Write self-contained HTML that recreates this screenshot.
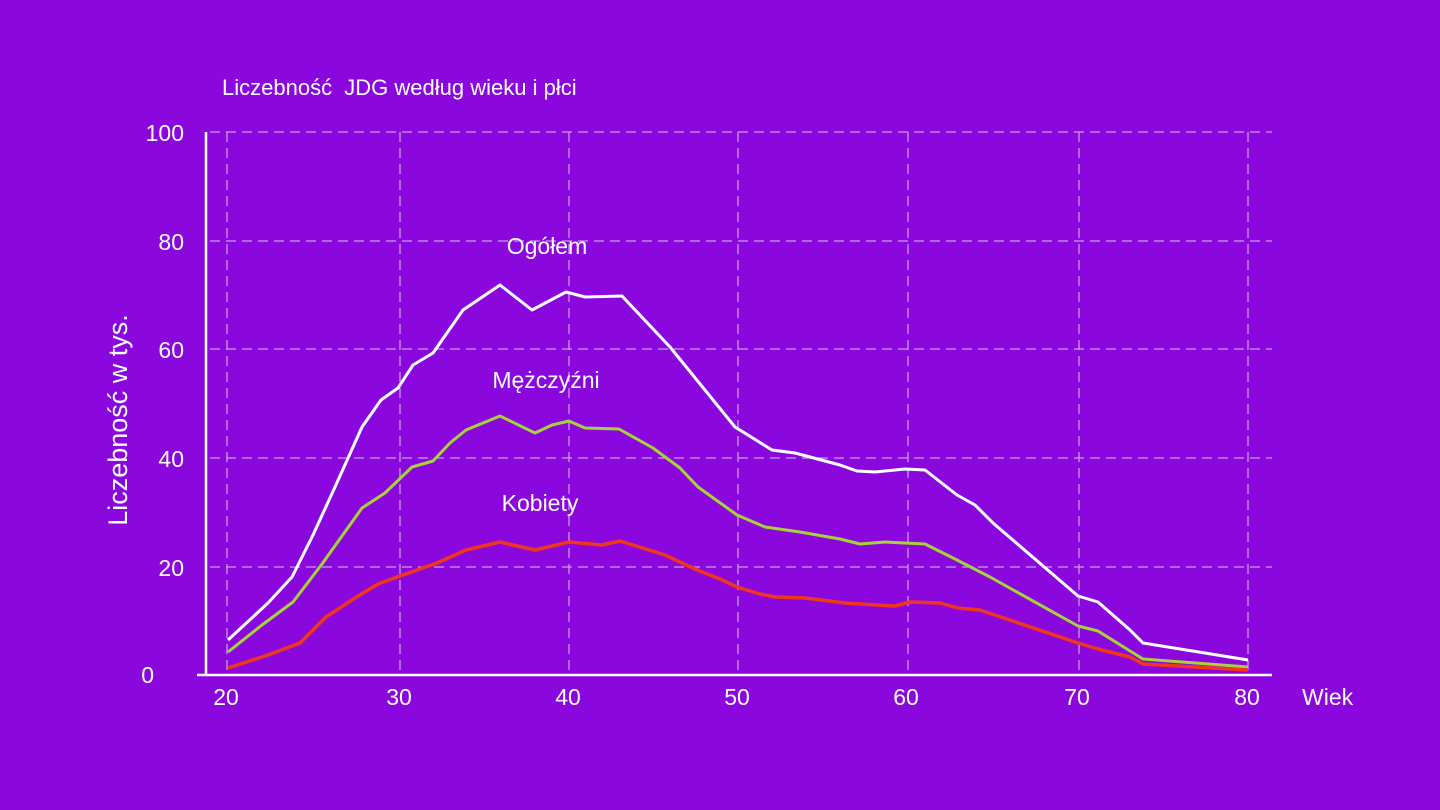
<!DOCTYPE html>
<html><head><meta charset="utf-8"><style>
html,body{margin:0;padding:0;background:#8a08de;}
svg{display:block}
text{font-family:"Liberation Sans",sans-serif;fill:#fff}
</style></head><body>
<svg width="1440" height="810" viewBox="0 0 1440 810">
<rect width="1440" height="810" fill="#8a08de"/>
<g stroke="#c79cf0" stroke-width="1.3" stroke-dasharray="10,6" fill="none">
<line x1="210" y1="132" x2="1272" y2="132"/>
<line x1="210" y1="241" x2="1272" y2="241"/>
<line x1="210" y1="349" x2="1272" y2="349"/>
<line x1="210" y1="458" x2="1272" y2="458"/>
<line x1="210" y1="567" x2="1272" y2="567"/>
<line x1="227" y1="132" x2="227" y2="675"/>
<line x1="400" y1="132" x2="400" y2="675"/>
<line x1="569" y1="132" x2="569" y2="675"/>
<line x1="738" y1="132" x2="738" y2="675"/>
<line x1="908" y1="132" x2="908" y2="675"/>
<line x1="1079" y1="132" x2="1079" y2="675"/>
<line x1="1248" y1="132" x2="1248" y2="675"/>
</g>
<line x1="206" y1="132" x2="206" y2="676" stroke="#fff" stroke-width="2.5"/>
<line x1="197" y1="675" x2="1272" y2="675" stroke="#fff" stroke-width="2.5"/>
<polyline fill="none" stroke="#fff" stroke-width="3" stroke-linejoin="round" points="228,640 268,603 292,577 313,535 335,487 362,427 381,400 398,388 413,365 433,353 463,310 500,285 532,310 566,292 585,297 622,296 670,347 735,427 772,450 795,453 840,465 857,471 875,472 905,469 925,470 957,495 975,505 993,523 1078,596 1098,602 1130,630 1143,643 1248,660"/>
<polyline fill="none" stroke="#a6d23a" stroke-width="3" stroke-linejoin="round" points="228,652 262,625 293,602 322,564 362,508 385,493 412,467 433,461 450,443 466,430 500,416 535,433 552,425 569,421 585,428 619,429 653,448 680,468 698,487 737,515 765,527 800,532 840,539 860,544 885,542 925,544 957,560 990,577 1078,626 1098,631 1130,651 1143,659 1248,667"/>
<polyline fill="none" stroke="#f0361c" stroke-width="3.5" stroke-linejoin="round" points="228,668 268,655 300,643 326,617 355,598 378,584 400,576 437,563 466,550 500,542 535,550 569,542 602,545 620,541 665,555 695,569 720,579 737,587 760,594 775,597 805,598 845,603 895,606 910,602 940,603 958,608 980,610 1078,643 1098,649 1130,657 1143,664 1248,670"/>
<text x="222" y="95" font-size="22" style="white-space:pre">Liczebność  JDG według wieku i płci</text>
<g font-size="23" text-anchor="end">
<text x="184" y="141">100</text>
<text x="184" y="250">80</text>
<text x="184" y="358">60</text>
<text x="184" y="467">40</text>
<text x="184" y="576">20</text>
<text x="154" y="683">0</text>
</g>
<g font-size="23" text-anchor="middle">
<text x="226" y="705">20</text>
<text x="399" y="705">30</text>
<text x="568" y="705">40</text>
<text x="737" y="705">50</text>
<text x="906" y="705">60</text>
<text x="1077" y="705">70</text>
<text x="1247" y="705">80</text>
</g>
<text x="1302" y="705" font-size="23">Wiek</text>
<text transform="translate(127,420) rotate(-90)" font-size="27" text-anchor="middle">Liczebność w tys.</text>
<g font-size="23" text-anchor="middle">
<text x="547" y="254">Ogółem</text>
<text x="546" y="388">Mężczyźni</text>
<text x="540" y="511">Kobiety</text>
</g>
</svg>
</body></html>
